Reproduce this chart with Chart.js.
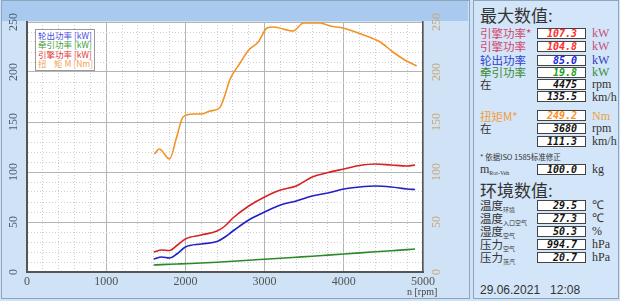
<!DOCTYPE html>
<html>
<head>
<meta charset="utf-8">
<script src="https://cdn.jsdelivr.net/npm/chart.js@4/dist/chart.umd.min.js"></script>
<style>
  body { margin: 0; width: 620px; height: 301px; overflow: hidden; position: relative; background: #cfe2f6; font-family: "Noto Sans CJK SC", sans-serif; }
  #leftPanel { position: absolute; left: 1px; top: 0; width: 467px; height: 297px; border: 1px solid #8ea4bb; }
  #band { position: absolute; left: 2px; top: 1px; width: 466px; height: 20px; background: #a9c9ef; }
  #chartBox { position: absolute; left: 0; top: 0; width: 470px; height: 301px; }
  #legend { position: absolute; left: 35px; top: 29px; width: 60px; height: 42px; background: #fff; border: 1px solid #9a9a9a; font-size: 8.5px; line-height: 9.4px; padding: 1px 0 0 2px; box-sizing: border-box; white-space: nowrap; }
  #rpmTitle { position: absolute; left: 407px; top: 286px; font: 10px "Liberation Serif", serif; color: #444; }
  #rightPanel { position: absolute; left: 473px; top: 0; width: 144px; height: 297px; border: 1px solid #8ea4bb; background: #d3e5f8; }
  .head { position: absolute; left: 480px; font-size: 17px; line-height: 20px; color: #333; }
  .lbl { position: absolute; left: 480px; font-size: 11.5px; line-height: 12px; color: #333; white-space: nowrap; }
  .lbl sub { font-size: 6px; vertical-align: -2px; }
  .box { position: absolute; left: 537px; width: 49px; height: 11px; border: 1px solid #444; background: #fff; box-sizing: border-box; font: italic bold 10px "DejaVu Sans Mono", monospace; line-height: 9px; text-align: right; padding-right: 8px; color: #111; }
  .unit { position: absolute; left: 592px; font: 12px "Liberation Serif", serif; line-height: 12px; color: #333; }
  .note { position: absolute; left: 480px; top: 152px; font-size: 7.5px; line-height: 9px; color: #333; }
  .date { position: absolute; left: 480px; top: 283px; font: 12px "Liberation Sans", sans-serif; color: #333; }
</style>
</head>
<body>
<div id="leftPanel"></div>
<div id="band"></div>
<div id="chartBox"><canvas id="dynoChart" width="470" height="301"></canvas></div>
<div id="legend">
  <div style="color:#4a4ae0">轮出功率 [kW]</div>
  <div style="color:#3a9a3a">牵引功率 [kW]</div>
  <div style="color:#e03535">引擎功率 [kW]</div>
  <div style="color:#f0a458">扭&nbsp;&nbsp;&nbsp;&nbsp;矩 M [Nm]</div>
</div>
<div id="rpmTitle">n [rpm]</div>

<div id="rightPanel"></div>
<div class="head" style="top:5px">最大数值:</div>
<div class="lbl" style="top:27px;color:#d4456a">引擎功率*</div>
<div class="box" style="top:28px;color:#ff2a2a">107.3</div>
<div class="unit" style="top:27px;color:#c4507a">kW</div>
<div class="lbl" style="top:40px;color:#d4456a">引擎功率</div>
<div class="box" style="top:41px;color:#ff2a2a">104.8</div>
<div class="unit" style="top:40px;color:#c4507a">kW</div>
<div class="lbl" style="top:54px;color:#3040d0">轮出功率</div>
<div class="box" style="top:55px;color:#2020e0">85.0</div>
<div class="unit" style="top:54px;color:#3040c0">kW</div>
<div class="lbl" style="top:66px;color:#3a8a3a">牵引功率</div>
<div class="box" style="top:67px;color:#20a020">19.8</div>
<div class="unit" style="top:66px;color:#3a8a3a">kW</div>
<div class="lbl" style="top:78px">在</div>
<div class="box" style="top:79px">4475</div>
<div class="unit" style="top:78px">rpm</div>
<div class="box" style="top:91px">135.5</div>
<div class="unit" style="top:91px">km/h</div>
<div class="lbl" style="top:110px;color:#f0a040">扭矩M*</div>
<div class="box" style="top:110px;color:#ff9020">249.2</div>
<div class="unit" style="top:110px;color:#f0a040">Nm</div>
<div class="lbl" style="top:122px">在</div>
<div class="box" style="top:123px">3680</div>
<div class="unit" style="top:122px">rpm</div>
<div class="box" style="top:136px">111.3</div>
<div class="unit" style="top:135px">km/h</div>
<div class="note">* 依据ISO 1585标准修正</div>
<div class="lbl" style="top:163px;font-family:'Liberation Serif',serif;font-size:12px">m<sub>Rot-Veh</sub></div>
<div class="box" style="top:164px">100.0</div>
<div class="unit" style="top:163px">kg</div>
<div class="head" style="top:180px">环境数值:</div>
<div class="lbl" style="top:199px">温度<sub>环境</sub></div>
<div class="box" style="top:200px">29.5</div>
<div class="unit" style="top:199px">℃</div>
<div class="lbl" style="top:212px">温度<sub>入口空气</sub></div>
<div class="box" style="top:213px">27.3</div>
<div class="unit" style="top:212px">℃</div>
<div class="lbl" style="top:225px">湿度<sub>空气</sub></div>
<div class="box" style="top:226px">50.3</div>
<div class="unit" style="top:225px">%</div>
<div class="lbl" style="top:238px">压力<sub>空气</sub></div>
<div class="box" style="top:239px">994.7</div>
<div class="unit" style="top:238px">hPa</div>
<div class="lbl" style="top:251px">压力<sub>蒸汽</sub></div>
<div class="box" style="top:252px">20.7</div>
<div class="unit" style="top:251px">hPa</div>
<div class="date">29.06.2021&nbsp;&nbsp;&nbsp;12:08</div>

<script>
// Power curves share one rpm grid
const powerRpm = [1600, 1700, 1800, 1900, 2000, 2200, 2400, 2500, 2600, 2800, 3000, 3200, 3400, 3600, 3800, 4000, 4200, 4400, 4600, 4800, 4900]
const enginePower = [20, 22, 21.5, 27, 33, 37, 41, 46, 54, 66, 75, 82, 86, 95, 99.5, 103, 106.5, 108, 107, 106, 107]
const wheelPower = [13, 15, 14, 18.5, 25, 28, 30.5, 35, 41, 52, 60, 67, 71, 76, 79, 83, 85, 86, 85, 83, 82.5]
const tractionPower = [7, 7.4, 7.7, 8, 8.3, 9, 9.8, 10.2, 10.7, 11.8, 12.8, 13.8, 14.8, 15.8, 16.9, 18, 19.1, 20.2, 21.3, 22.4, 23]

// Torque curve
const torqueRpm = [1610, 1670, 1800, 1890, 1970, 2100, 2200, 2310, 2430, 2500, 2560, 2690, 2800, 2920, 3030, 3110, 3360, 3490, 3700, 3830, 3990, 4250, 4460, 4620, 4770, 4920]
const torqueNm = [118, 123, 113, 135, 155, 158, 158, 161, 164, 177, 192, 209, 222, 230, 244, 245, 241, 249, 249, 246, 244, 237, 230, 220, 212, 206]

const xMajor = 1000
const yMajor = 50

function toPoints(xs, ys) {
  return xs.map((x, i) => ({ x: x, y: ys[i] }))
}

function curve(label, xs, ys, color, axis) {
  return {
    label: label,
    data: toPoints(xs, ys),
    borderColor: color,
    borderWidth: 1.6,
    pointRadius: 0,
    fill: false,
    cubicInterpolationMode: "monotone",
    yAxisID: axis,
  }
}

// white plot background
const plotBg = {
  id: "plotBg",
  beforeDraw(chart) {
    const a = chart.chartArea
    const ctx = chart.ctx
    ctx.save()
    ctx.fillStyle = "#ffffff"
    ctx.fillRect(a.left, a.top, a.right - a.left, a.bottom - a.top)
    ctx.restore()
  },
}

const gridColor = (ctx, major) => (ctx.tick && ctx.tick.value % major === 0 ? "#b4b4b4" : "#cfcfcf")
const gridDash = (ctx, major) => (ctx.tick && ctx.tick.value % major !== 0 ? [1, 2] : [])

new Chart(document.getElementById("dynoChart"), {
  type: "line",
  data: {
    datasets: [
      curve("轮出功率 [kW]", powerRpm, wheelPower, "#2020c8", "y"),
      curve("牵引功率 [kW]", powerRpm, tractionPower, "#2a8a2a", "y"),
      curve("引擎功率 [kW]", powerRpm, enginePower, "#d82222", "y"),
      curve("扭矩 M [Nm]", torqueRpm, torqueNm, "#f39325", "y2"),
    ],
  },
  options: {
    responsive: false,
    animation: false,
    layout: { padding: { top: 22, left: 0, right: 0, bottom: 0 } },
    plugins: { legend: { display: false }, tooltip: { enabled: false } },
    scales: {
      x: {
        type: "linear",
        min: 0,
        max: 5000,
        afterFit: (s) => { s.height = 29 },
        ticks: {
          stepSize: 200,
          autoSkip: false,
          maxRotation: 0,
          padding: 3,
          color: "#555",
          font: { family: "Liberation Serif", size: 12 },
          callback: (v) => (v % xMajor === 0 ? String(v) : ""),
        },
        grid: { drawTicks: false, color: (c) => gridColor(c, xMajor) },
        border: { color: "#555", width: 2, dash: (c) => gridDash(c, xMajor) },
      },
      y: {
        position: "left",
        min: 0,
        max: 250,
        afterFit: (s) => { s.width = 27 },
        ticks: {
          stepSize: 10,
          autoSkip: false,
          minRotation: 90,
          maxRotation: 90,
          crossAlign: "center",
          padding: 4,
          color: "#4d5e72",
          font: { family: "Liberation Serif", size: 12 },
          callback: (v) => (v % yMajor === 0 ? String(v) : ""),
        },
        grid: { drawTicks: false, color: (c) => gridColor(c, yMajor) },
        border: { color: "#555", width: 2, dash: (c) => gridDash(c, yMajor) },
      },
      y2: {
        position: "right",
        min: 0,
        max: 250,
        afterFit: (s) => { s.width = 47 },
        ticks: {
          stepSize: 10,
          autoSkip: false,
          minRotation: 90,
          maxRotation: 90,
          crossAlign: "center",
          padding: 5,
          color: "#c9a87c",
          font: { family: "Liberation Serif", size: 12 },
          callback: (v) => (v % yMajor === 0 ? String(v) : ""),
        },
        grid: { drawOnChartArea: false, drawTicks: false },
        border: { color: "#555", width: 1.5 },
      },
    },
  },
  plugins: [plotBg],
})
</script>
</body>
</html>
